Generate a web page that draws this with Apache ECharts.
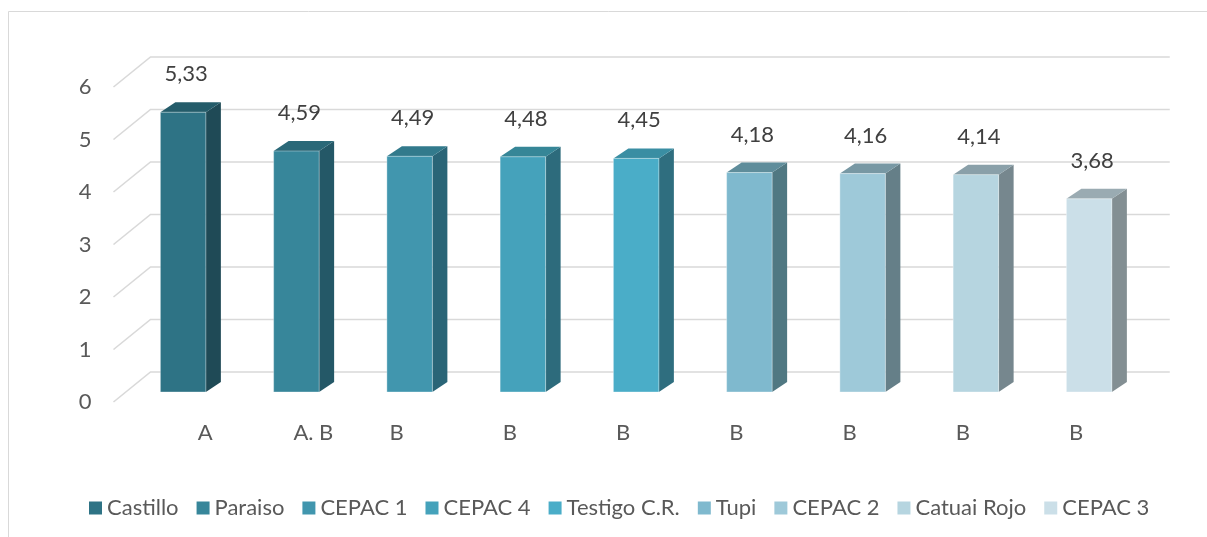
<!DOCTYPE html>
<html>
<head>
<meta charset="utf-8">
<script src="https://cdn.jsdelivr.net/npm/echarts@6/dist/echarts.min.js"></script>
<style>
  html, body { margin: 0; padding: 0; background: #ffffff; }
  #chart { width: 1207px; height: 537px; }
</style>
</head>
<body>
<div id="chart"></div>
<script>
// Varieties, their statistical groups and mean values
const varieties = ['Castillo', 'Paraiso', 'CEPAC 1', 'CEPAC 4', 'Testigo C.R.', 'Tupi', 'CEPAC 2', 'Catuai Rojo', 'CEPAC 3'];
const groups = ['A', 'A. B', 'B', 'B', 'B', 'B', 'B', 'B', 'B'];
const meanValues = [5.33, 4.59, 4.49, 4.48, 4.45, 4.18, 4.16, 4.14, 3.68];
const yTicks = [0, 1, 2, 3, 4, 5, 6];

// Face colours of each column: front, right side, top
const frontColors = ['#2E7385', '#37869A', '#4196AE', '#45A2BB', '#4AADC8', '#7FB9CE', '#9EC9D9', '#B6D5E0', '#CBDFE8'];
const sideColors  = ['#1F4A56', '#245867', '#2A6577', '#2D6B7C', '#2F6E7F', '#507882', '#657F88', '#76878E', '#838F93'];
const topColors   = ['#245C6A', '#2A6878', '#327A8C', '#368697', '#3A8EA3', '#5F8D9B', '#7898A4', '#8AA0A9', '#9AABB2'];

// Pseudo-3D geometry (pixels)
const FLOOR_DX = 37, FLOOR_DY = -30;   // depth of the floor / back wall
const BAR_SHIFT_X = 13, BAR_SHIFT_Y = -10; // column front plane behind the axis plane
const BAR_W = 45.5;
const BAR_DX = 15, BAR_DY = -10;       // column depth
const FONT = 'Lato, "Noto Sans", sans-serif';
const FONT_SIZE = 22;

const fmt = v => v.toFixed(2).replace('.', ',');

const chart = echarts.init(document.getElementById('chart'), null, { renderer: 'canvas' });

// Back wall gridlines with their floor diagonals
const wallSeries = {
  type: 'custom',
  name: '__wall',
  silent: true,
  z: 1,
  data: yTicks.map(t => [0, t]),
  renderItem(params, api) {
    const y = api.coord([0, api.value(1)])[1];
    const cs = params.coordSys;
    const left = cs.x;
    const right = cs.x + cs.width;
    return {
      type: 'polyline',
      shape: { points: [[left, y], [left + FLOOR_DX, y + FLOOR_DY], [right + FLOOR_DX, y + FLOOR_DY]] },
      style: { stroke: '#D9D9D9', lineWidth: 1.6, fill: null }
    };
  }
};

const barSeries = varieties.map((name, i) => ({
  type: 'custom',
  name: name,
  z: 3,
  itemStyle: { color: frontColors[i] },
  data: [[i, meanValues[i]]],
  renderItem(params, api) {
    const idx = api.value(0);
    const v = api.value(1);
    const base = api.coord([idx, 0]);
    const top = api.coord([idx, v]);
    const cx = base[0] + BAR_SHIFT_X;
    const x0 = cx - BAR_W / 2, x1 = cx + BAR_W / 2;
    const y0 = base[1] + BAR_SHIFT_Y, y1 = top[1] + BAR_SHIFT_Y;
    return {
      type: 'group',
      children: [
        { type: 'polygon',
          shape: { points: [[x1, y0], [x1 + BAR_DX, y0 + BAR_DY], [x1 + BAR_DX, y1 + BAR_DY], [x1, y1]] },
          style: { fill: sideColors[i] } },
        { type: 'polygon',
          shape: { points: [[x0, y1], [x1, y1], [x1 + BAR_DX, y1 + BAR_DY], [x0 + BAR_DX, y1 + BAR_DY]] },
          style: { fill: topColors[i] } },
        { type: 'rect',
          shape: { x: x0, y: y1, width: BAR_W, height: y0 - y1 },
          style: { fill: frontColors[i], stroke: 'rgba(255,255,255,0.35)', lineWidth: 1 } },
        { type: 'text',
          style: { text: fmt(v), x: cx + 3, y: y1 - 38, align: 'center', verticalAlign: 'middle',
                   font: FONT_SIZE + 'px ' + FONT, fill: '#404040' } }
      ]
    };
  }
}));

chart.setOption({
  animation: false,
  backgroundColor: '#ffffff',
  graphic: [{
    type: 'rect',
    shape: { x: 8.5, y: 11.5, width: 1220, height: 560 },
    style: { fill: null, stroke: '#D9D9D9', lineWidth: 1 },
    silent: true
  }],
  grid: { left: 113.5, top: 87, width: 1019.25, height: 315, containLabel: false },
  xAxis: {
    type: 'category',
    data: groups,
    boundaryGap: true,
    axisLine: { show: false },
    axisTick: { show: false },
    splitLine: { show: false },
    axisLabel: {
      margin: 20,
      interval: 0,
      color: '#595959',
      fontFamily: FONT,
      fontSize: FONT_SIZE,
      formatter: (val, idx) => idx === 0 ? '{s0|' + val + '}' : (idx === 1 ? '{s1|' + val + '}' : val),
      rich: {
        s0: { padding: [0, 0, 0, 70], color: '#595959', fontFamily: FONT, fontSize: FONT_SIZE },
        s1: { padding: [0, 0, 0, 60], color: '#595959', fontFamily: FONT, fontSize: FONT_SIZE }
      }
    }
  },
  yAxis: {
    type: 'value',
    min: 0,
    max: 6,
    interval: 1,
    axisLine: { show: false },
    axisTick: { show: false },
    splitLine: { show: false },
    axisLabel: { margin: 22, color: '#595959', fontFamily: FONT, fontSize: FONT_SIZE }
  },
  legend: {
    data: varieties,
    top: 492,
    left: 84,
    icon: 'rect',
    itemWidth: 13,
    itemHeight: 13,
    itemGap: 18,
    textStyle: { color: '#595959', fontFamily: FONT, fontSize: FONT_SIZE },
    selectedMode: false
  },
  series: [wallSeries].concat(barSeries)
});
</script>
</body>
</html>
